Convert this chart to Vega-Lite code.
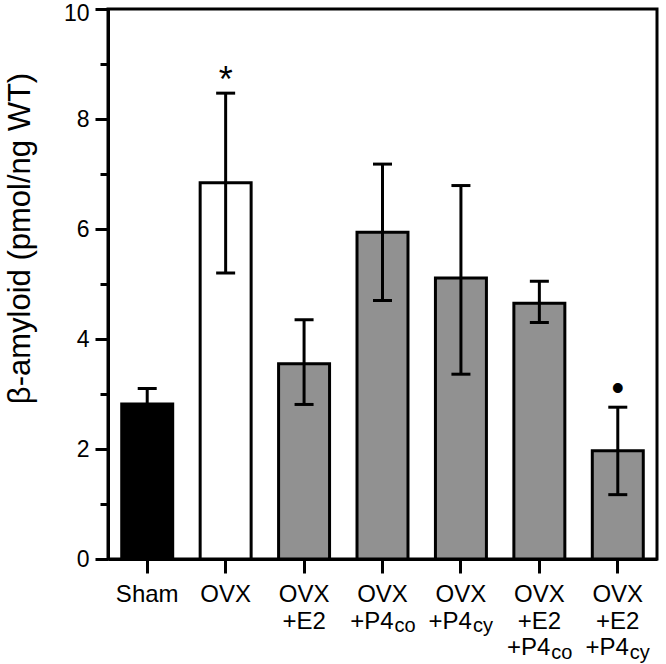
{
  "$schema": "https://vega.github.io/schema/vega-lite/v6.json",
  "width": 549,
  "height": 550,
  "autosize": "none",
  "padding": {"left": 108, "top": 9, "right": 9, "bottom": 105},
  "background": "white",
  "config": {
    "view": {"stroke": "black", "strokeWidth": 3},
    "font": "Liberation Sans",
    "axis": {
      "domainColor": "black",
      "domainWidth": 3,
      "tickColor": "black",
      "tickWidth": 3,
      "labelColor": "black",
      "titleColor": "black",
      "grid": false,
      "labelFont": "Liberation Sans",
      "titleFont": "Liberation Sans"
    }
  },
  "datasets": {
    "bars": [
      {"group": "Sham", "mean": 2.82, "lo": 2.54, "hi": 3.10, "sig": ""},
      {"group": "OVX", "mean": 6.84, "lo": 5.20, "hi": 8.47, "sig": "*"},
      {"group": "OVX+E2", "mean": 3.55, "lo": 2.81, "hi": 4.35, "sig": ""},
      {"group": "OVX+P4co", "mean": 5.94, "lo": 4.70, "hi": 7.18, "sig": ""},
      {"group": "OVX+P4cy", "mean": 5.11, "lo": 3.36, "hi": 6.79, "sig": ""},
      {"group": "OVX+E2+P4co", "mean": 4.65, "lo": 4.30, "hi": 5.05, "sig": ""},
      {"group": "OVX+E2+P4cy", "mean": 1.97, "lo": 1.17, "hi": 2.76, "sig": "•"}
    ],
    "labels": [
      {"group": "Sham", "line": 1, "text": "Sham", "sub": ""},
      {"group": "OVX", "line": 1, "text": "OVX", "sub": ""},
      {"group": "OVX+E2", "line": 1, "text": "OVX", "sub": ""},
      {"group": "OVX+E2", "line": 2, "text": "+E2", "sub": ""},
      {"group": "OVX+P4co", "line": 1, "text": "OVX", "sub": ""},
      {"group": "OVX+P4co", "line": 2, "text": "+P4", "sub": "co"},
      {"group": "OVX+P4cy", "line": 1, "text": "OVX", "sub": ""},
      {"group": "OVX+P4cy", "line": 2, "text": "+P4", "sub": "cy"},
      {"group": "OVX+E2+P4co", "line": 1, "text": "OVX", "sub": ""},
      {"group": "OVX+E2+P4co", "line": 2, "text": "+E2", "sub": ""},
      {"group": "OVX+E2+P4co", "line": 3, "text": "+P4", "sub": "co"},
      {"group": "OVX+E2+P4cy", "line": 1, "text": "OVX", "sub": ""},
      {"group": "OVX+E2+P4cy", "line": 2, "text": "+E2", "sub": ""},
      {"group": "OVX+E2+P4cy", "line": 3, "text": "+P4", "sub": "cy"}
    ]
  },
  "layer": [
    {
      "data": {"name": "bars"},
      "mark": {"type": "bar", "stroke": "black", "strokeWidth": 3},
      "encoding": {
        "x": {
          "field": "group", "type": "nominal", "sort": null,
          "scale": {"domain": ["Sham", "OVX", "OVX+E2", "OVX+P4co", "OVX+P4cy", "OVX+E2+P4co", "OVX+E2+P4cy"], "paddingInner": 0.35, "paddingOuter": 0.175},
          "axis": {"labels": false, "tickSize": 14, "title": null, "domainWidth": 3}
        },
        "y": {
          "field": "mean", "type": "quantitative",
          "scale": {"domain": [0, 10], "nice": false},
          "axis": {
            "values": [0, 1, 2, 3, 4, 5, 6, 7, 8, 9, 10],
            "labelExpr": "datum.value % 2 === 0 ? datum.label : ''",
            "tickSize": {"condition": {"test": "datum.value % 2 === 0", "value": 13}, "value": 8},
            "labelOffset": {"condition": {"test": "datum.value === 10", "value": 4}, "value": 0},
            "labelPadding": 6,
            "labelFontSize": 23,
            "title": "β-amyloid (pmol/ng WT)",
            "titleFontSize": 31,
            "titleFontWeight": "normal",
            "titleX": -79,
            "titleY": 229,
            "titleAngle": 270,
            "titleAlign": "center",
            "titleBaseline": "alphabetic"
          }
        },
        "color": {
          "field": "group", "type": "nominal",
          "scale": {"domain": ["Sham", "OVX", "OVX+E2", "OVX+P4co", "OVX+P4cy", "OVX+E2+P4co", "OVX+E2+P4cy"], "range": ["#000000", "#ffffff", "#919191", "#919191", "#919191", "#919191", "#919191"]},
          "legend": null
        }
      }
    },
    {
      "data": {"name": "bars"},
      "mark": {"type": "rule", "color": "black", "strokeWidth": 3},
      "encoding": {
        "x": {"field": "group", "type": "nominal", "sort": null},
        "y": {"field": "lo", "type": "quantitative"},
        "y2": {"field": "hi"}
      }
    },
    {
      "data": {"name": "bars"},
      "mark": {"type": "tick", "color": "black", "size": 19, "thickness": 3, "opacity": 1},
      "encoding": {
        "x": {"field": "group", "type": "nominal", "sort": null},
        "y": {"field": "hi", "type": "quantitative"}
      }
    },
    {
      "data": {"name": "bars"},
      "mark": {"type": "tick", "color": "black", "size": 19, "thickness": 3, "opacity": 1},
      "encoding": {
        "x": {"field": "group", "type": "nominal", "sort": null},
        "y": {"field": "lo", "type": "quantitative"}
      }
    },
    {
      "data": {"name": "bars"},
      "transform": [{"filter": "datum.sig === '*'"}],
      "mark": {"type": "text", "fontSize": 36, "baseline": "alphabetic", "align": "center", "dy": -1, "color": "black"},
      "encoding": {
        "x": {"field": "group", "type": "nominal", "sort": null},
        "y": {"field": "hi", "type": "quantitative"},
        "text": {"field": "sig"}
      }
    },
    {
      "data": {"name": "bars"},
      "transform": [{"filter": "datum.sig === '•'"}],
      "mark": {"type": "text", "fontSize": 36, "baseline": "alphabetic", "align": "center", "dy": -7, "color": "black"},
      "encoding": {
        "x": {"field": "group", "type": "nominal", "sort": null},
        "y": {"field": "hi", "type": "quantitative"},
        "text": {"field": "sig"}
      }
    },
    {
      "data": {"name": "labels"},
      "transform": [{"filter": "datum.line === 1"}],
      "mark": {"type": "text", "fontSize": 24, "baseline": "alphabetic", "align": "center", "dy": 43, "color": "black"},
      "encoding": {
        "x": {"field": "group", "type": "nominal", "sort": null},
        "y": {"datum": 0, "type": "quantitative"},
        "text": {"field": "text"}
      }
    },
    {
      "data": {"name": "labels"},
      "transform": [{"filter": "datum.line === 2 && datum.sub === ''"}],
      "mark": {"type": "text", "fontSize": 24, "baseline": "alphabetic", "align": "center", "dy": 69.5, "color": "black"},
      "encoding": {
        "x": {"field": "group", "type": "nominal", "sort": null},
        "y": {"datum": 0, "type": "quantitative"},
        "text": {"field": "text"}
      }
    },
    {
      "data": {"name": "labels"},
      "transform": [{"filter": "datum.line === 2 && datum.sub !== ''"}],
      "mark": {"type": "text", "fontSize": 24, "baseline": "alphabetic", "align": "right", "dx": 11, "dy": 69.5, "color": "black"},
      "encoding": {
        "x": {"field": "group", "type": "nominal", "sort": null},
        "y": {"datum": 0, "type": "quantitative"},
        "text": {"field": "text"}
      }
    },
    {
      "data": {"name": "labels"},
      "transform": [{"filter": "datum.line === 2 && datum.sub !== ''"}],
      "mark": {"type": "text", "fontSize": 20, "baseline": "alphabetic", "align": "left", "dx": 12, "dy": 73, "color": "black"},
      "encoding": {
        "x": {"field": "group", "type": "nominal", "sort": null},
        "y": {"datum": 0, "type": "quantitative"},
        "text": {"field": "sub"}
      }
    },
    {
      "data": {"name": "labels"},
      "transform": [{"filter": "datum.line === 3"}],
      "mark": {"type": "text", "fontSize": 24, "baseline": "alphabetic", "align": "right", "dx": 11, "dy": 96, "color": "black"},
      "encoding": {
        "x": {"field": "group", "type": "nominal", "sort": null},
        "y": {"datum": 0, "type": "quantitative"},
        "text": {"field": "text"}
      }
    },
    {
      "data": {"name": "labels"},
      "transform": [{"filter": "datum.line === 3"}],
      "mark": {"type": "text", "fontSize": 20, "baseline": "alphabetic", "align": "left", "dx": 12, "dy": 99.5, "color": "black"},
      "encoding": {
        "x": {"field": "group", "type": "nominal", "sort": null},
        "y": {"datum": 0, "type": "quantitative"},
        "text": {"field": "sub"}
      }
    }
  ]
}
